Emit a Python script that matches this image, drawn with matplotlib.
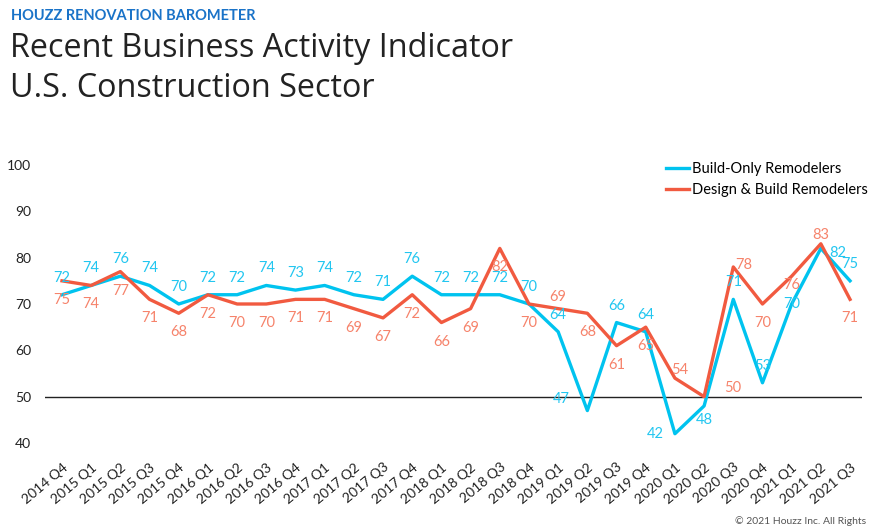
import matplotlib.pyplot as plt

plt.rcParams['font.family'] = ['Lato', 'DejaVu Sans']

quarters = ["2014 Q4", "2015 Q1", "2015 Q2", "2015 Q3", "2015 Q4",
            "2016 Q1", "2016 Q2", "2016 Q3", "2016 Q4",
            "2017 Q1", "2017 Q2", "2017 Q3", "2017 Q4",
            "2018 Q1", "2018 Q2", "2018 Q3", "2018 Q4",
            "2019 Q1", "2019 Q2", "2019 Q3", "2019 Q4",
            "2020 Q1", "2020 Q2", "2020 Q3", "2020 Q4",
            "2021 Q1", "2021 Q2", "2021 Q3"]
build_only = [72, 74, 76, 74, 70, 72, 72, 74, 73, 74, 72, 71, 76, 72,
              72, 72, 70, 64, 47, 66, 64, 42, 48, 71, 53, 70, 82, 75]
design_build = [75, 74, 77, 71, 68, 72, 70, 70, 71, 71, 69, 67, 72, 66,
                69, 82, 70, 69, 68, 61, 65, 54, 50, 78, 70, 76, 83, 71]
yticks = [40, 50, 60, 70, 80, 90, 100]

blue = "#00C3EF"
red = "#F15A40"
blue_txt = "#22C6F0"
red_txt = "#F6836B"

fig = plt.figure(figsize=(8.7, 5.28), dpi=100)
ax = fig.add_axes([45 / 870, 1 - 443 / 528, 817 / 870, 278 / 528])

x = list(range(len(quarters)))
ax.plot(x, build_only, color=blue, lw=2.4, label="Build-Only Remodelers", clip_on=False)
ax.plot(x, design_build, color=red, lw=2.4, label="Design & Build Remodelers", clip_on=False)
ax.axhline(50, color="#222222", lw=1.0, zorder=1)

ax.set_xlim(-0.582, 27.41)
ax.set_ylim(40, 100)
ax.set_yticks(yticks)
ax.set_xticks(x)
ax.set_xticklabels(quarters, rotation=40, ha="right", rotation_mode="anchor")
ax.tick_params(axis="both", length=0, labelsize=10, colors="#222222")
ax.tick_params(axis="x", pad=13)
ax.tick_params(axis="y", pad=10)
for s in ax.spines.values():
    s.set_visible(False)

# label offsets in pixels (dx, dy up); default blue above, red below
blue_off = {18: (-26, 12), 21: (-20, 0), 22: (0, -14), 25: (0, 0), 26: (17, -5)}
red_off = {17: (0, 12), 21: (5, 8), 22: (29, 9), 23: (10, 2), 25: (0, -9), 26: (0, 9)}

for i, v in enumerate(build_only):
    dx, dy = blue_off.get(i, (0, 17))
    ax.annotate(str(v), (i, v), xytext=(dx * 0.72, dy * 0.72), textcoords="offset points",
                ha="center", va="center", fontsize=10.5, color=blue_txt)
for i, v in enumerate(design_build):
    dx, dy = red_off.get(i, (0, -19))
    ax.annotate(str(v), (i, v), xytext=(dx * 0.72, dy * 0.72), textcoords="offset points",
                ha="center", va="center", fontsize=10.5, color=red_txt)

ax.legend(loc="upper left", bbox_to_anchor=(653 / 870, 1 - 149 / 528),
          bbox_transform=fig.transFigure, frameon=False, fontsize=10.5,
          handlelength=1.6, handletextpad=0.2, labelspacing=0.5)

fig.text(11 / 870, 1 - 20 / 528, "HOUZZ RENOVATION BAROMETER", fontsize=10.5,
         fontweight="bold", color="#1A73C8", va="baseline")
fig.text(10 / 870, 1 - 57 / 528, "Recent Business Activity Indicator", fontsize=23.3,
         color="#222222", va="baseline", family="Open Sans", fontweight="medium")
fig.text(10 / 870, 1 - 97 / 528, "U.S. Construction Sector", fontsize=23.3,
         color="#222222", va="baseline", family="Open Sans", fontweight="medium")
fig.text(735 / 870, 1 - 524 / 528, "\u00a9 2021 Houzz Inc. All Rights Reserved",
         fontsize=7.5, color="#555555", va="baseline")

fig.savefig("out.png", dpi=100)
